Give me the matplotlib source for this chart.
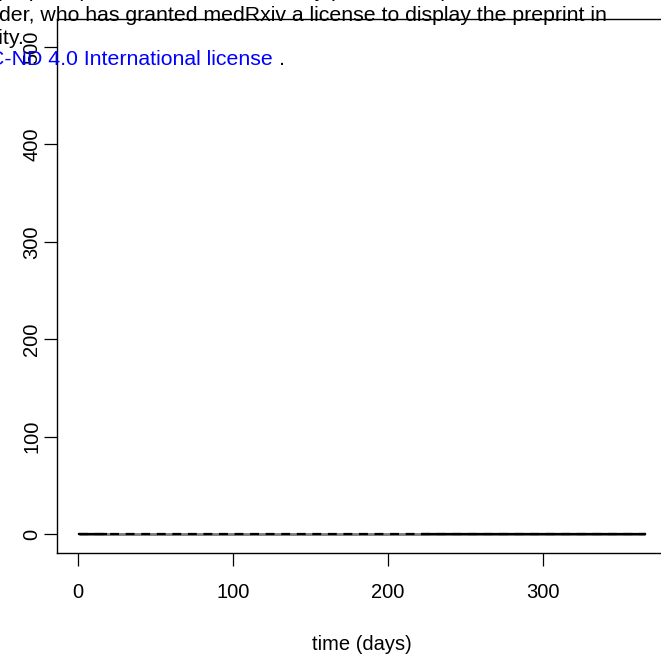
import numpy as np
import matplotlib
matplotlib.use("Agg")
import matplotlib.pyplot as plt

plt.rcParams['font.family'] = ['Liberation Sans', 'DejaVu Sans']

# values (all lie on zero)
days = [1, 18, 60, 100, 140, 180, 222, 260, 300, 340, 366]
grey_series = [0, 0, 0, 0, 0, 0, 0, 0, 0, 0, 0]
dashed_series = [0, 0, 0, 0, 0, 0, 0, 0, 0, 0, 0]
solid_series = [0, 0, np.nan, np.nan, np.nan, np.nan, 0, 0, 0, 0, 0]

xticks = [0, 100, 200, 300]
yticks = [0, 100, 200, 300, 400, 500]

W, H = 661, 656
fig = plt.figure(figsize=(W / 100, H / 100), dpi=100)

def px(x0, y0, x1, y1):
    return [x0 / W, (H - y1) / H, (x1 - x0) / W, (y1 - y0) / H]

# axes box runs past the right edge of the crop
ax = fig.add_axes(px(56.5, 19, 667.6, 553))
ax.plot(days, grey_series, color='#7a7a7a', lw=2.0, solid_capstyle='butt')
ax.plot(days, dashed_series, color='black', lw=1.6, ls=(0, (4, 3)))
ax.plot(days, solid_series, color='black', lw=1.6)

ax.set_xlim(-13.7, 380.6)
ax.set_ylim(-19.5, 528.7)
ax.set_xticks(xticks)
ax.set_yticks(yticks)
for s in ax.spines.values():
    s.set_linewidth(1.0)
ax.spines['right'].set_visible(False)
ax.tick_params(length=9.4, width=0.9, labelsize=14.5, color='black')
ax.tick_params(axis='x', pad=12)
ax.tick_params(axis='y', pad=1.5)
plt.setp(ax.get_yticklabels(), rotation=90, va='center')

ax.set_xlabel('time (days)', fontsize=14.5)
ax.xaxis.set_label_coords(0.5, (553 - 644) / 534)
ax.xaxis.label.set_va('center')

# medRxiv watermark text, cropped on the left
fs = 15.3
fig.text(607 / W, 1 + 3 / H, 'The copyright holder for this preprint (which was not certified by peer review) is the author/fun',
         ha='right', va='baseline', fontsize=fs)
fig.text(607 / W, (H - 21) / H, 'der, who has granted medRxiv a license to display the preprint in',
         ha='right', va='baseline', fontsize=fs)
fig.text(24 / W, (H - 44) / H, 'perpetuity.', ha='right', va='baseline', fontsize=fs)
fig.text(273 / W, (H - 65) / H, 'CC-BY-NC-ND 4.0 International license', ha='right', va='baseline',
         fontsize=fs, color='blue')
fig.text(279 / W, (H - 65) / H, '.', ha='left', va='baseline', fontsize=fs)

fig.savefig('out.png', dpi=100)
